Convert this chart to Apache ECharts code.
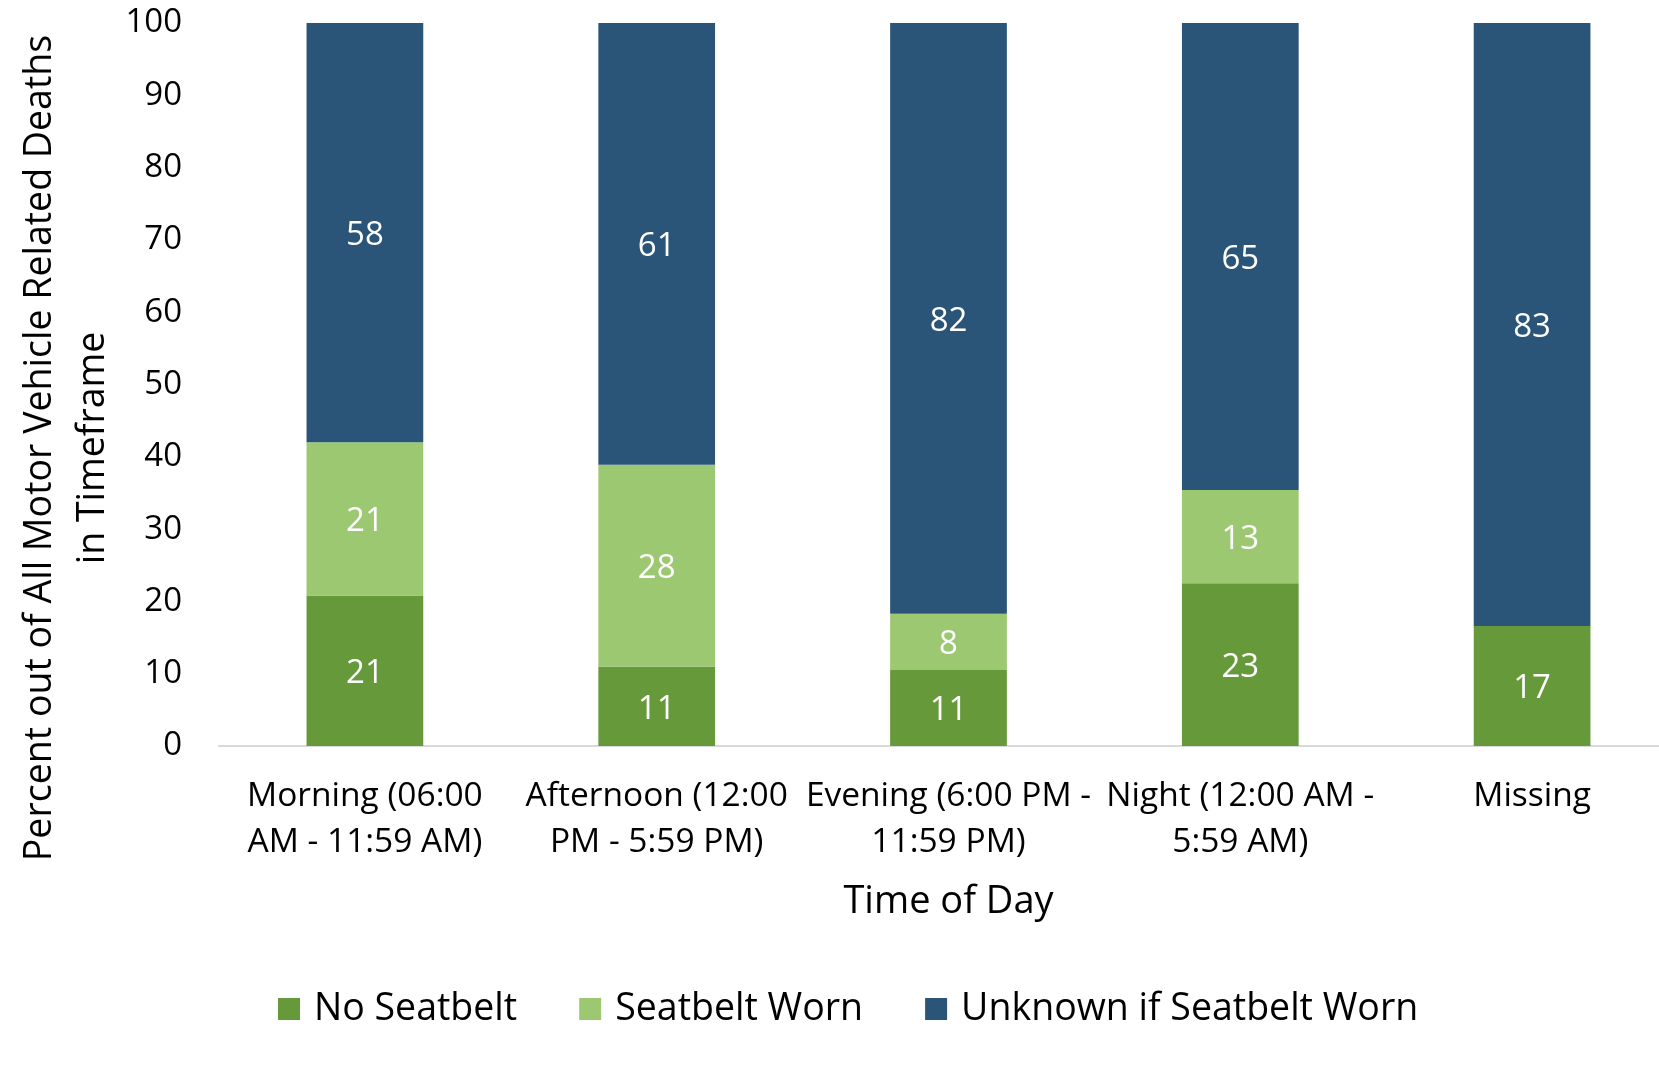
<!DOCTYPE html>
<html>
<head>
<meta charset="utf-8">
<script src="https://cdn.jsdelivr.net/npm/echarts@6/dist/echarts.min.js"></script>
<style>
html,body{margin:0;padding:0;background:#fff;}
#chart{width:1659px;height:1067px;}
</style>
</head>
<body>
<div id="chart"></div>
<script>
const categories = [
  "Morning (06:00\nAM - 11:59 AM)",
  "Afternoon (12:00\nPM - 5:59 PM)",
  "Evening (6:00 PM -\n11:59 PM)",
  "Night (12:00 AM -\n5:59 AM)",
  "Missing"
];
const seriesNames = ["No Seatbelt", "Seatbelt Worn", "Unknown if Seatbelt Worn"];
const noSeatbelt = [20.8, 11.0, 10.5, 22.5, 16.6];
const seatbeltWorn = [21.2, 27.9, 7.8, 12.9, 0];
const unknownWorn = [58.0, 61.1, 81.7, 64.6, 83.4];
const yTicks = [0, 10, 20, 30, 40, 50, 60, 70, 80, 90, 100];
const xAxisTitle = "Time of Day";
const yAxisTitle = "Percent out of All Motor Vehicle Related Deaths\nin Timeframe";
const colors = ["#66993A", "#9DC872", "#2A5579"];

const FONT = "Open Sans";
const chart = echarts.init(document.getElementById('chart'), null, {renderer: 'canvas'});

function mkSeries(name, data, color) {
  return {
    name: name,
    type: 'bar',
    stack: 'total',
    data: data,
    barWidth: '40%',
    itemStyle: {color: color},
    label: {
      show: true,
      position: 'inside',
      offset: [0, 3],
      color: '#ffffff',
      fontFamily: FONT,
      fontSize: 33,
      formatter: p => (p.value > 0 ? String(Math.round(p.value)) : '')
    }
  };
}

chart.setOption({
  animation: false,
  backgroundColor: '#ffffff',
  color: colors,
  textStyle: {fontFamily: FONT},
  grid: {left: 219, width: 1459, top: 23, height: 723, containLabel: false, outerBoundsMode: 'none'},
  legend: {
    data: seriesNames,
    left: 273,
    top: 985,
    itemWidth: 22,
    itemHeight: 22,
    itemGap: 62,
    icon: 'rect',
    textStyle: {fontFamily: FONT, fontSize: 37.5, color: '#000000', padding: [0, 0, 0, 9]}
  },
  xAxis: {
    type: 'category',
    data: categories,
    axisLine: {lineStyle: {color: '#D9D9D9', width: 2}},
    axisTick: {show: false},
    axisLabel: {
      interval: 0,
      fontFamily: FONT,
      fontSize: 33.5,
      color: '#000000',
      lineHeight: 46,
      margin: 27
    },
    name: xAxisTitle,
    nameLocation: 'middle',
    nameGap: 137,
    nameTextStyle: {fontFamily: FONT, fontSize: 38, color: '#000000'}
  },
  yAxis: {
    type: 'value',
    min: yTicks[0],
    max: yTicks[yTicks.length - 1],
    interval: 10,
    splitLine: {show: false},
    axisLine: {show: false},
    axisTick: {show: false},
    axisLabel: {
      fontFamily: FONT,
      fontSize: 33,
      color: '#000000',
      margin: 37
    }
  },
  graphic: [{
    type: 'text',
    x: 67,
    y: 448,
    rotation: Math.PI / 2,
    style: {
      text: yAxisTitle,
      fontFamily: FONT,
      fontSize: 37.5,
      lineHeight: 53,
      fill: '#000000',
      align: 'center',
      verticalAlign: 'middle'
    }
  }],
  series: [
    mkSeries(seriesNames[0], noSeatbelt, colors[0]),
    mkSeries(seriesNames[1], seatbeltWorn, colors[1]),
    mkSeries(seriesNames[2], unknownWorn, colors[2])
  ]
});
</script>
</body>
</html>
